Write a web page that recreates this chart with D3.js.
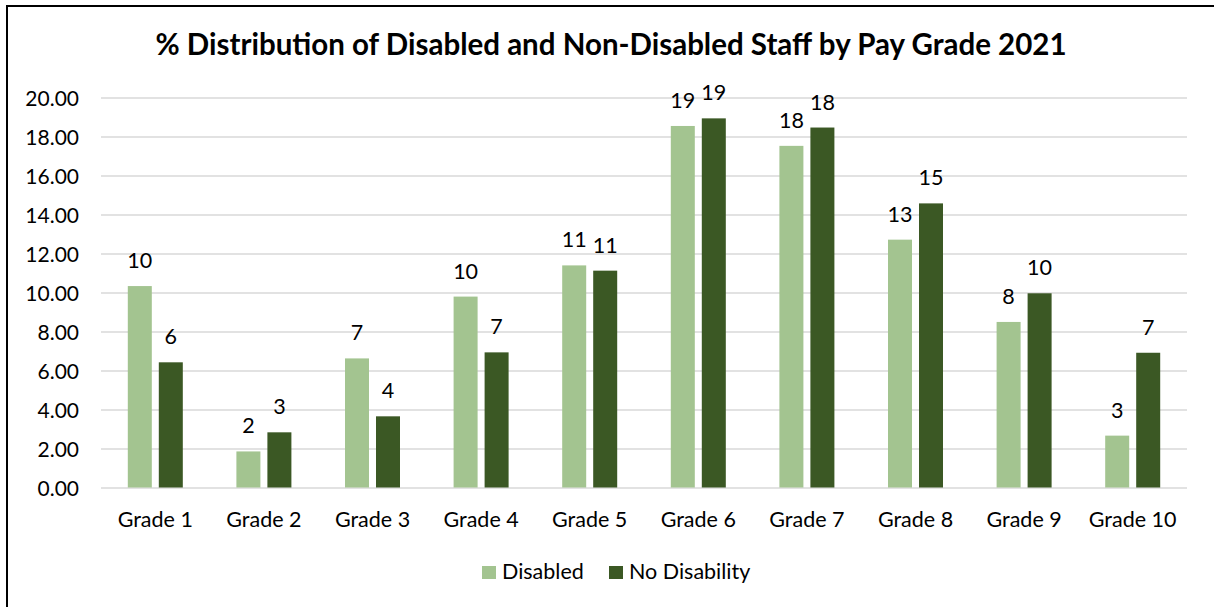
<!DOCTYPE html>
<html>
<head>
<meta charset="utf-8">
<script src="https://cdn.jsdelivr.net/npm/d3@7"></script>
<style>
  html, body { margin: 0; padding: 0; background: #fff; }
  svg { display: block; font-family: Lato, "Open Sans", sans-serif; }
</style>
</head>
<body>
<svg id="chart" width="1214" height="607"></svg>
<script>
// Pay grades (x categories)
const grades = ["Grade 1", "Grade 2", "Grade 3", "Grade 4", "Grade 5",
                "Grade 6", "Grade 7", "Grade 8", "Grade 9", "Grade 10"];
// Series names
const seriesNames = ["Disabled", "No Disability"];
// % of staff in each grade
const disabled     = [10.33, 1.85, 6.62, 9.79, 11.39, 18.54, 17.52, 12.71, 8.49, 2.66];
const noDisability = [6.42, 2.83, 3.65, 6.93, 11.12, 18.93, 18.46, 14.57, 9.96, 6.91];
// Y axis ticks
const yTicks = [0, 2, 4, 6, 8, 10, 12, 14, 16, 18, 20];

const colors = ["#a3c490", "#3b5824"];
const title = "% Distribution of Disabled and Non-Disabled Staff by Pay Grade 2021";

const svg = d3.select("#chart");

// Outer frame
svg.append("rect")
  .attr("x", 7).attr("y", 6)
  .attr("width", 1240).attr("height", 640)
  .attr("fill", "none").attr("stroke", "#000").attr("stroke-width", 2);

const plot = { left: 101, right: 1187, top: 97.5, bottom: 487.5 };

const y = d3.scaleLinear().domain([0, 20]).range([plot.bottom, plot.top]);

const groupPad = 1 - 55 / ((plot.right - plot.left) / grades.length);
const x = d3.scaleBand().domain(grades)
  .range([plot.left, plot.right])
  .paddingInner(groupPad).paddingOuter(groupPad / 2);

const xs = d3.scaleBand().domain(seriesNames)
  .range([0, x.bandwidth()])
  .paddingInner(2 - 55 / 31).paddingOuter(0);

// Gridlines and value axis
const yAxis = d3.axisLeft(y).tickValues(yTicks)
  .tickSize(-(plot.right - plot.left)).tickPadding(22)
  .tickFormat(d3.format(".2f"));

const gy = svg.append("g")
  .attr("transform", `translate(${plot.left},0)`)
  .call(yAxis);
gy.select(".domain").remove();
gy.selectAll(".tick line").attr("stroke", "#d9d9d9").attr("stroke-width", 1.6);
gy.selectAll(".tick text")
  .attr("font-family", "Lato, sans-serif")
  .attr("font-size", 21).attr("fill", "#000")
  .attr("dy", "0.36em");

// Category labels
const gx = svg.append("g")
  .attr("transform", `translate(0,${plot.bottom})`)
  .call(d3.axisBottom(x).tickSize(0).tickPadding(24));
gx.select(".domain").remove();
gx.selectAll(".tick text")
  .attr("font-family", "Lato, sans-serif")
  .attr("font-size", 21.5).attr("fill", "#000")
  .attr("dy", "0.71em");

// Bars
const rows = grades.map((g, i) => ({ grade: g, values: [disabled[i], noDisability[i]] }));

const groups = svg.append("g").selectAll("g")
  .data(rows).join("g")
  .attr("transform", d => `translate(${x(d.grade)},0)`);

groups.selectAll("rect")
  .data(d => d.values.map((v, k) => ({ key: seriesNames[k], value: v, k })))
  .join("rect")
  .attr("x", d => xs(d.key))
  .attr("width", xs.bandwidth())
  .attr("y", d => y(d.value))
  .attr("height", d => y(0) - y(d.value))
  .attr("fill", d => colors[d.k]);

// Value labels, rounded to whole percentages
groups.selectAll("text")
  .data(d => d.values.map((v, k) => ({ key: seriesNames[k], value: v })))
  .join("text")
  .attr("x", d => xs(d.key) + xs.bandwidth() / 2)
  .attr("y", d => y(d.value) - 18)
  .attr("text-anchor", "middle")
  .attr("font-size", 21.5).attr("fill", "#000")
  .text(d => d3.format(".0f")(d.value));

// Title
svg.append("text")
  .attr("x", 611).attr("y", 55)
  .attr("text-anchor", "middle")
  .attr("font-size", 29.5).attr("font-weight", "bold").attr("fill", "#000")
  .text(title);

// Legend
const legend = svg.append("g");
const legendItems = [
  { name: seriesNames[0], color: colors[0], sx: 482, tx: 502 },
  { name: seriesNames[1], color: colors[1], sx: 609, tx: 629 }
];
legendItems.forEach(it => {
  legend.append("rect")
    .attr("x", it.sx).attr("y", 566).attr("width", 14).attr("height", 13)
    .attr("fill", it.color);
  legend.append("text")
    .attr("x", it.tx).attr("y", 579)
    .attr("font-size", 21.5).attr("fill", "#000")
    .text(it.name);
});
</script>
</body>
</html>
